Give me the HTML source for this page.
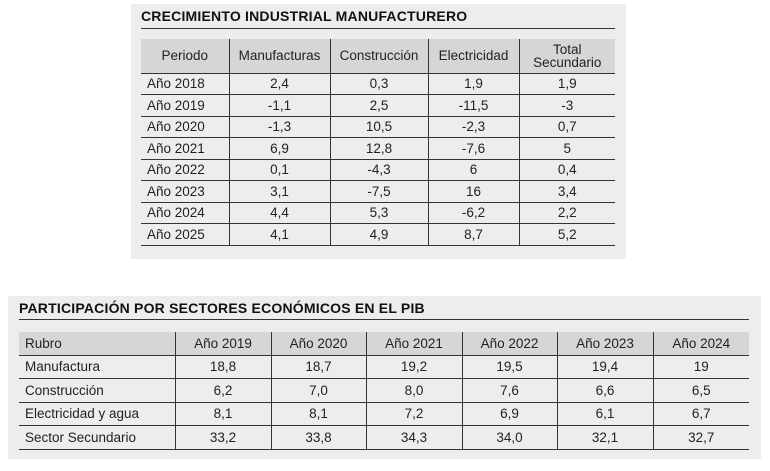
<!DOCTYPE html>
<html><head><meta charset="utf-8"><style>
html,body{margin:0;padding:0;background:#fff;width:770px;height:471px;overflow:hidden;position:relative;font-family:"Liberation Sans",sans-serif;color:#222}
.panel{position:absolute;background:#ededed}
.title{position:absolute;font-weight:bold;font-size:14px;color:#111;letter-spacing:0.2px;white-space:nowrap}
.rule{position:absolute;height:1px;background:#333}
table{position:absolute;border-collapse:collapse;table-layout:fixed;font-size:13.5px}
td{padding:0;text-align:center;border-bottom:1px solid #333;white-space:nowrap;overflow:hidden}
td+td{border-left:1.5px solid #333}
tr.h td{background:#d6d6d6;border-bottom:1.5px solid #333}
td.l{text-align:left;padding-left:6px}
</style></head><body>
<div class="panel" style="left:131px;top:4px;width:495px;height:255px"></div>
<div class="title" style="left:141px;top:8px">CRECIMIENTO INDUSTRIAL MANUFACTURERO</div>
<div class="rule" style="left:141px;top:28px;width:474px"></div>
<table style="left:141px;top:39px;width:474px">
<colgroup><col style="width:88px"><col style="width:101px"><col style="width:98px"><col style="width:91px"><col style="width:96px"></colgroup>
<tr class="h" style="height:34px"><td>Periodo</td><td>Manufacturas</td><td>Construcción</td><td>Electricidad</td><td style="line-height:13px">Total<br>Secundario</td></tr>
<tr style="height:21.5px"><td class="l">Año 2018</td><td>2,4</td><td>0,3</td><td>1,9</td><td>1,9</td></tr>
<tr style="height:21.5px"><td class="l">Año 2019</td><td>-1,1</td><td>2,5</td><td>-11,5</td><td>-3</td></tr>
<tr style="height:21.5px"><td class="l">Año 2020</td><td>-1,3</td><td>10,5</td><td>-2,3</td><td>0,7</td></tr>
<tr style="height:21.5px"><td class="l">Año 2021</td><td>6,9</td><td>12,8</td><td>-7,6</td><td>5</td></tr>
<tr style="height:21.5px"><td class="l">Año 2022</td><td>0,1</td><td>-4,3</td><td>6</td><td>0,4</td></tr>
<tr style="height:21.5px"><td class="l">Año 2023</td><td>3,1</td><td>-7,5</td><td>16</td><td>3,4</td></tr>
<tr style="height:21.5px"><td class="l">Año 2024</td><td>4,4</td><td>5,3</td><td>-6,2</td><td>2,2</td></tr>
<tr style="height:21.5px"><td class="l">Año 2025</td><td>4,1</td><td>4,9</td><td>8,7</td><td>5,2</td></tr>
</table>

<div class="panel" style="left:8px;top:296px;width:753px;height:163px"></div>
<div class="title" style="left:19px;top:300px">PARTICIPACIÓN POR SECTORES ECONÓMICOS EN EL PIB</div>
<div class="rule" style="left:19px;top:319px;width:730px"></div>
<table style="left:19px;top:332px;width:730px">
<colgroup><col style="width:156px"><col style="width:96px"><col style="width:95px"><col style="width:96px"><col style="width:95px"><col style="width:96px"><col style="width:96px"></colgroup>
<tr class="h" style="height:23px"><td class="l">Rubro</td><td>Año 2019</td><td>Año 2020</td><td>Año 2021</td><td>Año 2022</td><td>Año 2023</td><td>Año 2024</td></tr>
<tr style="height:23.5px"><td class="l">Manufactura</td><td>18,8</td><td>18,7</td><td>19,2</td><td>19,5</td><td>19,4</td><td>19</td></tr>
<tr style="height:23.5px"><td class="l">Construcción</td><td>6,2</td><td>7,0</td><td>8,0</td><td>7,6</td><td>6,6</td><td>6,5</td></tr>
<tr style="height:23.5px"><td class="l">Electricidad y agua</td><td>8,1</td><td>8,1</td><td>7,2</td><td>6,9</td><td>6,1</td><td>6,7</td></tr>
<tr style="height:23.5px"><td class="l">Sector Secundario</td><td>33,2</td><td>33,8</td><td>34,3</td><td>34,0</td><td>32,1</td><td>32,7</td></tr>
</table>
</body></html>
